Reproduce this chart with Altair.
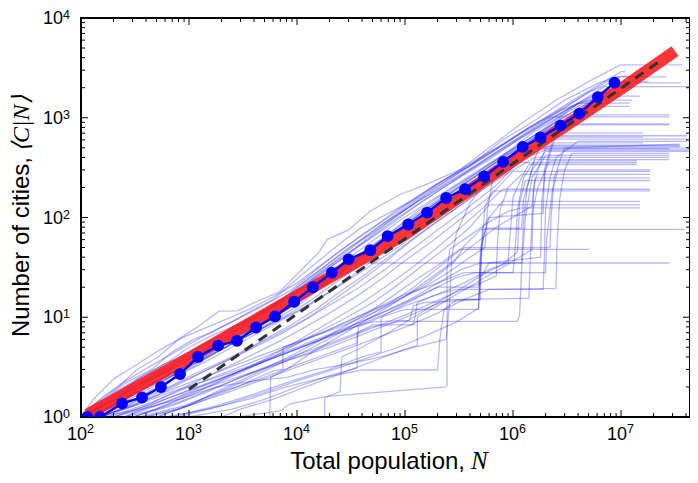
import altair as alt
import pandas as pd

W, H = 609, 399
X_DOMAIN = [100, 4.35e7]
Y_DOMAIN = [1, 1e4]

# mean curve (blue dots)
MEAN_N = [114, 150, 240, 367, 550, 826, 1210, 1860, 2780, 4170, 6260, 9400, 14000, 21000, 30000,
          47700, 69000, 107000, 160000, 240000, 360000, 540000, 810000, 1.23e6, 1.8e6, 2.75e6,
          4.1e6, 6.1e6, 8.7e6]
MEAN_C = [1.0, 1.0, 1.37, 1.57, 2.0, 2.7, 4.0, 5.2, 5.8, 7.9, 10.2, 14.3, 20, 28, 38,
          47, 65, 85, 112, 157, 192, 258, 361, 510, 635, 835, 1100, 1610, 2250]

# red fit curve
FIT_N = [115, 1000, 7100, 1e5, 1e6, 1e7, 3.16e7]
FIT_C = [1.06, 3.9, 13.2, 68, 370, 1950, 4650]

# black dashed scaling line
SCALE_N = [1000, 2.45e7]
SCALE_C = [1.9, 3890]

# individual staircase curves (N, C)
LINES = [
    [(100,1),(140,1.4),(220,2),(330,3),(520,4),(800,6),(1200,8),(1900,11.5),(2800,11.6),(4000,14),(6900,18),(1.0e4,27),(1.6e4,45),(1.9e4,60),(3e4,75),(4.8e4,117),(9e4,170),(1.5e5,210),(3.2e5,300),(6e5,500),(1.2e6,880),(2.5e6,1500),(5e6,2300),(9.8e6,3390),(3.7e7,3390)],
    [(100,1),(160,1.5),(260,2.2),(450,3),(700,4.5),(1100,6),(1600,7),(2500,9),(4000,12),(6000,15),(9000,22),(1.5e4,35),(2.5e4,55),(4e4,80),(7e4,110),(1.2e5,150),(2e5,220),(4e5,330),(8e5,600),(1.5e6,900),(3e6,1500),(6e6,2200),(9e6,2570),(2.6e7,2570)],
    [(100,1),(180,1.3),(300,2),(500,2.5),(800,3.5),(1300,5),(2000,6.5),(3200,8),(5000,11),(8000,16),(1.3e4,25),(2.2e4,38),(3.5e4,55),(6e4,85),(1e5,120),(2e5,190),(4e5,300),(7e5,450),(1.3e6,700),(2.5e6,1100),(5e6,1800),(8e6,2240),(3.6e7,2240)],
    [(110,1),(200,1.6),(350,2.2),(600,3),(1000,4),(1600,5),(2500,7),(4000,10),(6500,14),(1e4,19),(1.6e4,28),(2.6e4,40),(4.5e4,60),(8e4,95),(1.5e5,150),(3e5,240),(6e5,380),(1.1e6,600),(2e6,900),(4e6,1400),(7e6,2050),(5e7,2050)],
    [(120,1),(250,1.5),(420,2),(700,2.6),(1100,3.2),(1800,4.5),(3000,6),(5000,8),(8000,12),(1.3e4,17),(2e4,25),(3.5e4,40),(6e4,60),(1e5,90),(2e5,150),(4e5,250),(8e5,420),(1.5e6,700),(3e6,1100),(6e6,1650),(1.5e7,1650)],
    [(100,1),(130,1.2),(210,1.8),(380,2.6),(650,3.6),(1000,5),(1600,6.5),(2500,8),(3800,10),(6000,13),(1e4,20),(1.8e4,32),(3e4,50),(5e4,70),(9e4,110),(1.7e5,180),(3.5e5,300),(7e5,480),(1.4e6,800),(2.8e6,1200),(5e6,1500),(1.26e7,1500)],
    [(140,1),(280,1.4),(500,2),(850,3),(1400,4),(2300,5.5),(3700,7),(6000,9),(1e4,13),(1.7e4,20),(3e4,32),(5e4,48),(8e4,70),(1.4e5,110),(2.5e5,170),(5e5,280),(1e6,480),(2e6,800),(4e6,1400),(1.2e7,1400)],
    [(100,1),(170,1.2),(300,1.7),(550,2.3),(900,3),(1500,4),(2400,5.3),(4000,7.5),(7000,11),(1.2e4,16),(2e4,24),(3.5e4,36),(6e4,55),(1e5,80),(1.8e5,125),(3.5e5,200),(7e5,340),(1.4e6,560),(3e6,1070),(2.8e7,1070)],
    [(130,1),(240,1.5),(400,2.2),(700,3.1),(1200,4.2),(2000,5.6),(3300,7.2),(5500,9.4),(9000,13),(1.5e4,19),(2.6e4,30),(4.5e4,46),(8e4,72),(1.5e5,115),(3e5,190),(6e5,320),(1.2e6,530),(2.5e6,850),(2.8e7,850)],
    [(100,1),(190,1.4),(330,1.9),(600,2.5),(1000,3.3),(1700,4.4),(2800,5.8),(4600,7.6),(7500,10),(1.25e4,14),(2.1e4,21),(3.6e4,32),(6.2e4,48),(1.1e5,75),(2e5,120),(4e5,200),(8e5,330),(1.6e6,610),(4.1e7,610)],
    [(150,1),(300,1.3),(550,1.8),(950,2.4),(1600,3.1),(2700,4),(4500,5.3),(7500,7),(1.2e4,9.5),(2e4,14),(3.4e4,21),(6e4,33),(1e5,52),(1.8e5,85),(3.5e5,140),(7e5,240),(1.3e6,400),(2.2e6,530),(3.5e7,530)],
    [(100,1),(220,1.3),(420,1.9),(750,2.7),(1300,3.7),(2200,5),(3600,6.6),(6000,8.7),(1e4,11.5),(1.7e4,16),(2.9e4,23),(5e4,34),(9e4,52),(1.6e5,85),(3e5,140),(6e5,230),(1.2e6,380),(2e6,475),(5e7,475)],
    [(180,1),(350,1.5),(650,2),(1100,2.7),(1900,3.5),(3200,4.6),(5300,6.2),(9000,8.5),(1.5e4,12),(2.5e4,18),(4.3e4,27),(7.5e4,42),(1.3e5,66),(2.4e5,105),(4.5e5,170),(9e5,280),(1.6e6,400),(2.8e7,400)],
    [(120,1),(260,1.2),(480,1.6),(850,2.2),(1500,3),(2600,4),(4400,5.4),(7500,7.3),(1.3e4,10),(2.2e4,14),(3.8e4,20),(6.5e4,30),(1.1e5,46),(2e5,75),(3.8e5,125),(7e5,210),(1.1e6,355),(1.4e7,355)],
    [(200,1),(400,1.3),(750,1.8),(1300,2.4),(2300,3.2),(4000,4.3),(7000,5.8),(1.2e4,8),(2e4,11),(3.5e4,16),(6e4,24),(1e5,37),(1.8e5,58),(3.2e5,95),(6e5,160),(1e6,290),(1.86e7,290)],
    [(250,1),(500,1.2),(900,1.6),(1600,2.1),(2800,2.8),(4800,3.7),(8000,5),(1.3e4,6.8),(2.2e4,9.5),(3.8e4,13.5),(6.5e4,20),(1.1e5,30),(1.9e5,48),(3.3e5,80),(5.5e5,130),(8e5,192),(1.86e7,192)],
    [(300,1),(600,1.3),(1100,1.7),(2000,2.3),(3500,3),(6000,4),(1e4,5.4),(1.7e4,7.4),(2.9e4,10),(5e4,14),(8.5e4,21),(1.4e5,32),(2.4e5,50),(4e5,80),(6e5,134),(1.5e7,134)],
    [(400,1),(800,1.2),(1500,1.6),(2700,2.1),(4700,2.8),(8000,3.7),(1.4e4,5),(2.4e4,6.8),(4e4,9.5),(7e4,13.5),(1.2e5,20),(2e5,31),(3.3e5,48),(5e5,76),(3.9e7,76)],
    [(500,1),(1000,1.3),(1800,1.8),(3200,2.4),(5500,3.2),(9500,4.3),(1.6e4,5.8),(2.7e4,8),(4.5e4,11),(7.5e4,16),(1.2e5,23),(2e5,33),(3.2e5,48),(5.1e6,48)],
    [(100,1),(200,1.5),(400,2.3),(800,3.3),(1500,5),(3000,8),(6000,12),(1.2e4,20),(2.2e4,30),(3e4,35),(2.8e7,35)],
    [(100,1),(150,1.3),(240,1.8),(420,2.5),(700,3.4),(1150,4.6),(1900,6.2),(3100,8.4),(5200,11.5),(8500,16),(1.4e4,24),(2.4e4,36),(4e4,54),(7e4,82),(1.2e5,125),(2.2e5,195),(4e5,300),(8e5,480),(1.6e6,760),(3.2e6,1200),(6.5e6,1800),(9e6,2000),(1.3e7,2000)],
    [(110,1),(170,1.5),(280,2.1),(480,2.8),(800,3.8),(1300,5.2),(2100,7),(3500,9.4),(5800,12.5),(9500,17),(1.6e4,26),(2.7e4,40),(4.5e4,62),(7.5e4,95),(1.3e5,145),(2.4e5,220),(4.6e5,340),(9e5,540),(1.8e6,850),(3.5e6,1300),(7e6,1900),(1e7,2300),(1.8e7,2300)],
    [(130,1),(210,1.4),(360,1.9),(620,2.6),(1050,3.5),(1750,4.8),(2900,6.5),(4800,8.8),(8000,12),(1.35e4,17),(2.3e4,26),(3.9e4,40),(6.6e4,62),(1.15e5,96),(2.1e5,150),(4e5,240),(8e5,390),(1.6e6,640),(3.2e6,1000),(5.5e6,1300),(1.2e7,1300)],
    [(100,1),(210,1.5),(330,2.4),(560,3.3),(900,4.2),(1500,5.6),(2400,7.5),(4000,10),(6500,14),(1.1e4,20),(1.8e4,30),(3e4,47),(5e4,72),(8.5e4,110),(1.5e5,170),(2.8e5,260),(5.5e5,410),(1.1e6,660),(2.2e6,1020),(2.8e7,1020)],
    [(160,1),(300,1.4),(520,2),(900,2.8),(1500,3.7),(2500,5),(4200,6.8),(7000,9.2),(1.2e4,12.5),(2e4,18),(3.4e4,27),(5.8e4,42),(1e5,66),(1.8e5,105),(3.3e5,170),(6.5e5,280),(1.3e6,450),(2.5e6,640),(1.6e7,640)],
    [(120,1),(200,1.3),(340,1.8),(580,2.5),(1000,3.4),(1700,4.6),(2800,6.3),(4700,8.6),(7900,11.8),(1.3e4,16.5),(2.2e4,24),(3.8e4,36),(6.5e4,55),(1.1e5,85),(2e5,135),(3.8e5,215),(7.5e5,350),(1.5e6,560),(2.6e6,870),(2.8e7,870)],
    [(150,1),(350,1.2),(800,1.5),(1800,2),(4000,2.3),(8000,2.5),(1.5e4,3),(3e4,3.4),(6e4,4),(1.2e5,5),(2.4e5,6),(2.6e5,15),(2.7e5,40),(3e5,70),(4e5,140),(6e5,250),(1e6,400),(1.3e6,490),(2.8e7,490)],
    [(2800,1),(7000,1.15),(8500,1.35),(1.8e4,1.6),(2.4e5,2.0),(2.45e5,2.1),(2.45e5,30),(2.6e5,48),(3.5e5,60),(6e5,90),(9e5,115),(1.2e6,125),(1.5e7,125)],
    [(300,1),(700,1.3),(1500,1.8),(3000,2.5),(6000,3.4),(1.2e4,4.5),(2.5e4,6),(5e4,8),(9e4,9.1),(1.1e6,9.1),(1.15e6,10.5),(1.2e6,30),(1.3e6,100),(1.5e6,250),(2e6,420),(2.8e7,420)],
    [(200,1),(500,1.4),(1200,2),(2500,2.7),(5000,3.6),(1e4,4.8),(2e4,6.5),(4e4,8.5),(5e4,9),(1.1e5,9.3),(1.2e5,13),(1.5e5,14),(4.8e5,15),(5e5,25),(5.2e5,60),(5.5e5,130),(6.5e5,185),(1.86e7,185)],
    [(250,1),(600,1.5),(1400,2.1),(3000,2.9),(6000,3.9),(1.2e4,5.2),(2.5e4,7),(5e4,9.5),(1e5,13),(2e5,17),(3e5,19),(1.9e6,19),(1.95e6,40),(2e6,120),(2.2e6,250),(2.5e6,400),(4e6,580),(4.1e7,580)],
    [(180,1),(450,1.4),(1000,2),(2200,2.8),(4500,3.8),(9000,5.2),(1.8e4,7.2),(3.5e4,10),(6e4,13),(1e5,17),(2e5,22),(3.5e5,28),(1e6,28),(1.05e6,50),(1.1e6,120),(1.25e6,250),(1.6e6,380),(2.8e7,380)],
    [(350,1),(900,1.3),(2000,1.8),(4500,2.4),(9000,3.2),(1.8e4,4.2),(3.6e4,5.5),(3.7e4,8),(6e4,10),(1e5,12),(4.8e5,12),(5e5,30),(5.2e5,78),(6e5,100),(8e5,145),(1.5e7,145)],
    [(500,1),(1200,1.4),(2800,2),(6000,2.9),(7400,3),(7400,5),(1.2e4,6),(2.5e4,8),(5e4,11),(9e4,15),(1.6e5,22),(2.8e5,35),(3.5e5,50),(2.2e6,50),(2.25e6,100),(2.4e6,250),(3e6,500),(3.5e7,545)],
    [(140,1),(320,1.3),(700,1.8),(1600,2.4),(3500,3.2),(7000,4.3),(1.4e4,5.8),(2.8e4,7.8),(5.5e4,10.5),(1e5,14),(1.8e5,19),(3e5,25),(4.5e5,28),(2e6,28),(2.05e6,60),(2.3e6,180),(2.6e6,300),(1.86e7,300)],
    [(700,1),(1800,1.3),(4000,1.7),(9000,2.3),(2e4,3),(4e4,4),(6e4,4.5),(6e4,10),(8e4,12),(1.2e5,15),(2e5,20),(4.8e5,20),(5e5,40),(5.5e5,78),(1.2e6,78),(1.25e6,150),(1.5e6,300),(2e6,460),(5e7,460)],
    [(1000,1),(2500,1.2),(5000,1.5),(1e4,2),(2e4,2.6),(3.6e4,3.1),(3.6e4,7),(5e4,8.4),(1.2e5,8.4),(1.3e5,14),(2e5,17),(3.5e5,22),(6e5,30),(9e5,35),(9.5e5,80),(1e6,160),(1.2e6,250),(1.4e6,340),(1.4e7,340)],
    [(600,1),(1500,1.2),(3500,1.5),(8000,2),(1.8e4,2.5),(4e4,2.96),(2e5,2.96),(2.1e5,6),(2.3e5,12),(3e5,15),(5e5,15),(5e5,25),(6e5,35),(1.8e6,40),(1.85e6,150),(2e6,300),(2.5e6,700),(1.6e7,700)],
    [(100,1),(130,1.5),(200,2.4),(320,3.3),(500,4.5),(800,6),(1300,7.5),(2200,9.5),(3600,12),(6000,16),(1e4,22),(1.7e4,34),(2.9e4,52),(5e4,78),(8.5e4,120),(1.5e5,180),(2.8e5,270),(5.5e5,420),(1.1e6,680),(2.2e6,1050),(4.4e6,1650),(8.5e6,2500),(1e7,2600),(1.35e7,2600)],
    [(100,1),(160,1.6),(260,2.3),(430,3.2),(720,4.4),(1200,6),(2000,8),(3300,10.5),(5500,14),(9000,19),(1.5e4,30),(2.5e4,46),(4.2e4,70),(7e4,100),(1.2e5,150),(2.2e5,230),(4.2e5,360),(8.5e5,560),(1.7e6,900),(3.4e6,1450),(6.5e6,2200),(1e7,2900),(1.1e7,2900)],
    [(120,1),(190,1.5),(320,2),(540,2.8),(900,3.8),(1500,5),(2500,6.8),(4200,9),(7000,12.5),(1.15e4,17.5),(1.9e4,27),(3.2e4,41),(5.4e4,62),(9e4,94),(1.6e5,140),(3e5,215),(5.8e5,340),(1.15e6,540),(2.3e6,860),(4.6e6,1350),(8e6,1900),(1e7,2100)],
    [(100,1),(140,1.2),(230,1.6),(400,2.2),(680,3),(1150,4.1),(1950,5.6),(3300,7.6),(5600,10.3),(9500,14),(1.6e4,21),(2.7e4,32),(4.6e4,49),(7.8e4,75),(1.3e5,115),(2.4e5,180),(4.6e5,280),(9e5,450),(1.8e6,720),(3.6e6,1150),(7e6,1750),(9.5e6,1750)],
    [(5600,1),(5700,2.5),(8000,3),(1.4e4,4.5),(2.5e4,6.5),(4.5e4,9.5),(8e4,14),(1.4e5,21),(2.4e5,32),(4e5,50),(7e5,80),(1.5e6,130),(1.6e6,250),(1.86e7,250)],
    [(1.8e4,1),(1.8e4,1.55),(2.5e4,1.8),(2.6e4,4),(4e4,5),(7e4,7),(1.2e5,10),(2e5,14),(3.2e5,19),(5e5,26),(8e5,34),(1.1e6,45),(1.15e6,140),(1.3e6,235),(1.86e7,235)],
    [(200,1),(500,1.3),(1100,1.8),(2500,2.4),(5500,3.2),(1.2e4,4.3),(2.5e4,5.8),(5e4,7.8),(1e5,10.5),(1.8e5,14),(3e5,18),(5e5,22),(7e5,26),(7.2e5,60),(7.6e5,120),(9e5,200),(1.2e6,270),(1.86e7,270)],
    [(300,1),(800,1.4),(1800,2),(4000,2.8),(9000,3.8),(2e4,5),(4e4,6.7),(8e4,9),(1.5e5,12),(2.5e5,15),(1.4e6,15.5),(1.45e6,40),(1.5e6,110),(1.7e6,200),(2e6,300),(2.2e6,370),(1.4e7,370)],
    [(250,1),(600,1.4),(1300,2),(2800,2.8),(6000,3.9),(1.3e4,5.4),(2.7e4,7.5),(5.5e4,10.5),(1.1e5,15),(2e5,22),(3.3e5,30),(5e5,35),(1.2e6,35),(1.25e6,90),(1.35e6,200),(1.6e6,400),(2e6,660),(4.1e7,660)],
    [(150,1),(350,1.4),(800,2),(1800,2.8),(4000,3.9),(9000,5.4),(2e4,7.5),(4e4,10.5),(8e4,14.5),(1.5e5,20),(2.5e5,28),(4e5,40),(5.5e5,50),(5.8e5,120),(6.5e5,250),(9e5,400),(1.3e6,515),(3.5e7,515)],
    [(400,1),(1000,1.3),(2400,1.8),(5500,2.5),(1.2e4,3.4),(2.6e4,4.6),(5.5e4,6.2),(1.1e5,8.3),(2e5,11),(3.5e5,15),(6e5,19),(2.5e6,19.5),(2.55e6,50),(2.7e6,150),(3e6,300),(3.5e6,440),(2.8e7,440)],
    [(800,1),(2000,1.3),(4500,1.7),(1e4,2.3),(2.2e4,3),(4.8e4,4),(1e5,5.3),(1.8e5,7),(3e5,9),(4.6e5,12),(4.8e5,12.2),(5e5,50),(6e5,100),(1.9e6,110),(1.95e6,300),(2.3e6,560),(1.6e7,560)],
    [(2000,1),(3000,1.2),(6000,1.5),(1.2e4,2),(2.5e4,2.7),(5e4,3.6),(1e5,4.8),(1.3e5,5.2),(1.3e5,10),(2e5,13),(3.3e5,18),(5.5e5,25),(9e5,34),(1.5e6,48),(1.55e6,200),(1.7e6,300),(2e6,500),(5e7,500)],
]

X_MAJOR = [1e2, 1e3, 1e4, 1e5, 1e6, 1e7]
X_EXP = ["2", "3", "4", "5", "6", "7"]
Y_MAJOR = [1, 10, 100, 1000, 10000]
Y_EXP = ["0", "1", "2", "3", "4"]
X_MINOR = [k * 10 ** d for d in range(2, 8) for k in range(2, 10) if k * 10 ** d < X_DOMAIN[1]]
Y_MINOR = [k * 10 ** d for d in range(0, 4) for k in range(2, 10)]

SANS = "Liberation Sans"
SERIF = "Liberation Serif"

rows = []
for i, pts in enumerate(LINES):
    for j, (n, c) in enumerate(pts):
        rows.append({"line": i, "o": j, "N": n, "C": c})
df_lines = pd.DataFrame(rows)
df_mean = pd.DataFrame({"N": MEAN_N, "C": MEAN_C})
df_fit = pd.DataFrame({"N": FIT_N, "C": FIT_C, "o": range(len(FIT_N))})
df_scale = pd.DataFrame({"N": SCALE_N, "C": SCALE_C})

xs = alt.Scale(type="log", domain=X_DOMAIN, nice=False)
ys = alt.Scale(type="log", domain=Y_DOMAIN, nice=False)
X = alt.X("N:Q", scale=xs, axis=None)
Y = alt.Y("C:Q", scale=ys, axis=None)

stairs = alt.Chart(df_lines).mark_line(color="#0000ff", strokeWidth=1.3, opacity=0.28, clip=True).encode(
    x=X, y=Y, detail="line:N", order="o:Q")
fit = alt.Chart(df_fit).mark_line(color="#ff1a1a", strokeWidth=12, opacity=0.88, strokeCap="butt", clip=True).encode(
    x=X, y=Y, order="o:Q")
scal = alt.Chart(df_scale).mark_line(color="#333333", strokeWidth=3, strokeDash=[10, 7], clip=True).encode(x=X, y=Y)
mean_line = alt.Chart(df_mean).mark_line(color="#0000ff", strokeWidth=2.5, clip=True).encode(x=X, y=Y)
mean_pts = alt.Chart(df_mean).mark_circle(color="#0000ff", size=140, opacity=1, clip=True).encode(x=X, y=Y)

# inward ticks on all four sides
dfxM = pd.DataFrame({"N": X_MAJOR, "e": X_EXP})
dfxm = pd.DataFrame({"N": X_MINOR})
dfyM = pd.DataFrame({"C": Y_MAJOR, "e": Y_EXP})
dfym = pd.DataFrame({"C": Y_MINOR})

def xticks(df, ln):
    b = alt.Chart(df).mark_rule(color="black", strokeWidth=1).encode(x=X, y=alt.value(H), y2=alt.value(H - ln))
    t = alt.Chart(df).mark_rule(color="black", strokeWidth=1).encode(x=X, y=alt.value(0), y2=alt.value(ln))
    return b + t

def yticks(df, ln):
    l = alt.Chart(df).mark_rule(color="black", strokeWidth=1).encode(y=Y, x=alt.value(0), x2=alt.value(ln))
    r = alt.Chart(df).mark_rule(color="black", strokeWidth=1).encode(y=Y, x=alt.value(W), x2=alt.value(W - ln))
    return l + r

ticks = xticks(dfxM, 7) + xticks(dfxm, 4) + yticks(dfyM, 7) + yticks(dfym, 4)

# tick labels 10^k
xl10 = alt.Chart(dfxM).mark_text(text="10", font=SANS, fontSize=18, align="right", baseline="alphabetic", dx=6).encode(
    x=X, y=alt.value(H + 23))
xlexp = alt.Chart(dfxM).mark_text(font=SANS, fontSize=12.5, align="left", baseline="alphabetic", dx=6).encode(
    x=X, y=alt.value(H + 16), text="e:N")
yl10 = alt.Chart(dfyM).mark_text(text="10", font=SANS, fontSize=18, align="right", baseline="alphabetic", dy=6).encode(
    y=Y, x=alt.value(-18))
ylexp = alt.Chart(dfyM).mark_text(font=SANS, fontSize=12.5, align="left", baseline="alphabetic", dy=1).encode(
    y=Y, x=alt.value(-18), text="e:N")

# axis titles
one = dfxM.head(1)
xt1 = alt.Chart(one).mark_text(text="Total population,", font=SANS, fontSize=24, align="right",
                               baseline="alphabetic").encode(x=alt.value(384), y=alt.value(H + 52))
xt2 = alt.Chart(one).mark_text(text="N", font=SERIF, fontStyle="italic", fontSize=25, align="left",
                               baseline="alphabetic").encode(x=alt.value(390), y=alt.value(H + 52))
yt1 = alt.Chart(one).mark_text(text="Number of cities,", font=SANS, fontSize=24, align="right",
                               baseline="middle", angle=270).encode(x=alt.value(-59), y=alt.value(139))
yt2 = alt.Chart(one).mark_text(text="⟨C|N⟩", font=SERIF, fontStyle="italic", fontSize=24, align="left",
                               baseline="middle", angle=270).encode(x=alt.value(-59), y=alt.value(134))

chart = alt.layer(
    stairs, fit, scal, mean_line, mean_pts, ticks, xl10, xlexp, yl10, ylexp, xt1, xt2, yt1, yt2
).properties(
    width=W, height=H,
    autosize=alt.AutoSizeParams(type="none"),
    padding={"left": 73, "top": 10, "right": 0, "bottom": 58},
).configure_view(stroke="black", strokeWidth=2)

chart.save("out.html", embed_options={"renderer": "svg", "actions": False})
